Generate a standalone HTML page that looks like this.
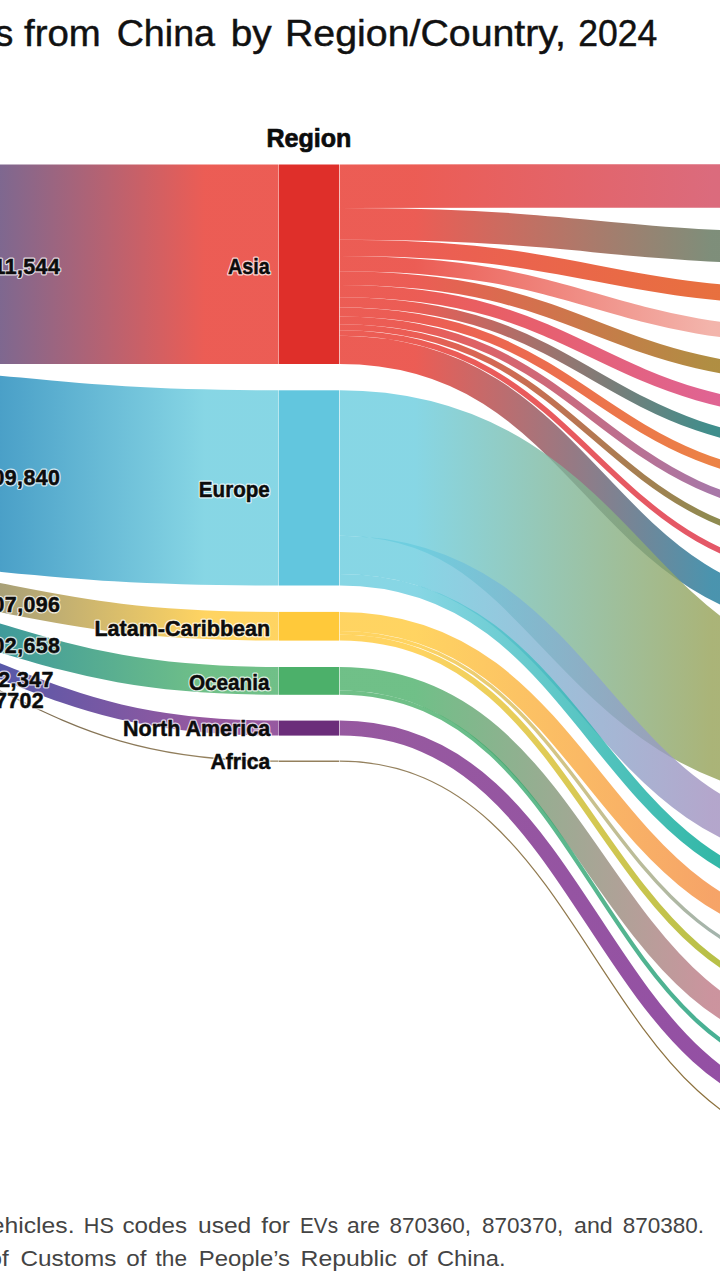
<!DOCTYPE html>
<html><head><meta charset="utf-8"><title>Sankey</title>
<style>
html,body{margin:0;padding:0;background:#fff;}
body{width:720px;height:1280px;overflow:hidden;position:relative;font-family:"Liberation Sans",sans-serif;}
svg{position:absolute;left:0;top:0;}
.lb,.vl{font-family:"Liberation Sans",sans-serif;font-weight:bold;font-size:21.8px;stroke-linejoin:round;}

.halo{fill:#fff;stroke:#fff;stroke-width:3px;opacity:.75;}
.ink{fill:#0c0c0c;stroke:#0c0c0c;stroke-width:.5px;}
.vl{font-size:21.4px;letter-spacing:.4px;}
.ttl{font-family:"Liberation Sans",sans-serif;font-size:36px;fill:#111;stroke:#111;stroke-width:.45px;}
.hd{font-family:"Liberation Sans",sans-serif;font-weight:bold;font-size:26px;fill:#0c0c0c;stroke:#0c0c0c;stroke-width:.7px;}
.ft{font-family:"Liberation Sans",sans-serif;font-size:22px;fill:#444;}
</style></head><body>
<svg width="720" height="1280" viewBox="0 0 720 1280">
<defs>
<linearGradient id="gl0" gradientUnits="userSpaceOnUse" x1="0" y1="0" x2="205" y2="0"><stop offset="0" stop-color="#5e4274"/><stop offset="1" stop-color="#e7342a"/></linearGradient>
<linearGradient id="gl1" gradientUnits="userSpaceOnUse" x1="0" y1="0" x2="205" y2="0"><stop offset="0" stop-color="#1d88ba"/><stop offset="1" stop-color="#69ccde"/></linearGradient>
<linearGradient id="gl2" gradientUnits="userSpaceOnUse" x1="0" y1="0" x2="205" y2="0"><stop offset="0" stop-color="#928856"/><stop offset="1" stop-color="#ffc93a"/></linearGradient>
<linearGradient id="gl3" gradientUnits="userSpaceOnUse" x1="0" y1="0" x2="205" y2="0"><stop offset="0" stop-color="#0f8181"/><stop offset="1" stop-color="#4cb06a"/></linearGradient>
<linearGradient id="gl4" gradientUnits="userSpaceOnUse" x1="0" y1="0" x2="205" y2="0"><stop offset="0" stop-color="#2e2e92"/><stop offset="1" stop-color="#7c2f88"/></linearGradient>
<linearGradient id="gl5" gradientUnits="userSpaceOnUse" x1="0" y1="0" x2="205" y2="0"><stop offset="0" stop-color="#594524"/><stop offset="1" stop-color="#7a6236"/></linearGradient>
<linearGradient id="gr0" gradientUnits="userSpaceOnUse" x1="415" y1="0" x2="712" y2="0"><stop offset="0" stop-color="#e7342a"/><stop offset="1" stop-color="#d2465c"/></linearGradient>
<linearGradient id="gr1" gradientUnits="userSpaceOnUse" x1="415" y1="0" x2="712" y2="0"><stop offset="0" stop-color="#e7342a"/><stop offset="1" stop-color="#5e7259"/></linearGradient>
<linearGradient id="gr2" gradientUnits="userSpaceOnUse" x1="415" y1="0" x2="712" y2="0"><stop offset="0" stop-color="#e7342a"/><stop offset="1" stop-color="#e24c0f"/></linearGradient>
<linearGradient id="gr3" gradientUnits="userSpaceOnUse" x1="415" y1="0" x2="712" y2="0"><stop offset="0" stop-color="#e7342a"/><stop offset="1" stop-color="#f0a297"/></linearGradient>
<linearGradient id="gr4" gradientUnits="userSpaceOnUse" x1="415" y1="0" x2="712" y2="0"><stop offset="0" stop-color="#e7342a"/><stop offset="1" stop-color="#9c7213"/></linearGradient>
<linearGradient id="gr5" gradientUnits="userSpaceOnUse" x1="415" y1="0" x2="712" y2="0"><stop offset="0" stop-color="#e7342a"/><stop offset="1" stop-color="#d83d77"/></linearGradient>
<linearGradient id="gr6" gradientUnits="userSpaceOnUse" x1="415" y1="0" x2="712" y2="0"><stop offset="0" stop-color="#e7342a"/><stop offset="1" stop-color="#0f726f"/></linearGradient>
<linearGradient id="gr7" gradientUnits="userSpaceOnUse" x1="415" y1="0" x2="712" y2="0"><stop offset="0" stop-color="#e7342a"/><stop offset="1" stop-color="#e76318"/></linearGradient>
<linearGradient id="gr8" gradientUnits="userSpaceOnUse" x1="415" y1="0" x2="712" y2="0"><stop offset="0" stop-color="#e7342a"/><stop offset="1" stop-color="#925692"/></linearGradient>
<linearGradient id="gr9" gradientUnits="userSpaceOnUse" x1="415" y1="0" x2="712" y2="0"><stop offset="0" stop-color="#e7342a"/><stop offset="1" stop-color="#726d24"/></linearGradient>
<linearGradient id="gr10" gradientUnits="userSpaceOnUse" x1="415" y1="0" x2="712" y2="0"><stop offset="0" stop-color="#e7342a"/><stop offset="1" stop-color="#dd2e42"/></linearGradient>
<linearGradient id="gr11" gradientUnits="userSpaceOnUse" x1="415" y1="0" x2="712" y2="0"><stop offset="0" stop-color="#e7342a"/><stop offset="1" stop-color="#1d799a"/></linearGradient>
<linearGradient id="gr12" gradientUnits="userSpaceOnUse" x1="415" y1="0" x2="712" y2="0"><stop offset="0" stop-color="#69ccde"/><stop offset="1" stop-color="#95a156"/></linearGradient>
<linearGradient id="gr13" gradientUnits="userSpaceOnUse" x1="415" y1="0" x2="712" y2="0"><stop offset="0" stop-color="#69ccde"/><stop offset="1" stop-color="#a190bf"/></linearGradient>
<linearGradient id="gr14" gradientUnits="userSpaceOnUse" x1="415" y1="0" x2="712" y2="0"><stop offset="0" stop-color="#69ccde"/><stop offset="1" stop-color="#01a692"/></linearGradient>
<linearGradient id="gr15" gradientUnits="userSpaceOnUse" x1="415" y1="0" x2="712" y2="0"><stop offset="0" stop-color="#ffc93a"/><stop offset="1" stop-color="#f48d42"/></linearGradient>
<linearGradient id="gr16" gradientUnits="userSpaceOnUse" x1="415" y1="0" x2="712" y2="0"><stop offset="0" stop-color="#ffc93a"/><stop offset="1" stop-color="#8da197"/></linearGradient>
<linearGradient id="gr17" gradientUnits="userSpaceOnUse" x1="415" y1="0" x2="712" y2="0"><stop offset="0" stop-color="#ffc93a"/><stop offset="1" stop-color="#a6b01a"/></linearGradient>
<linearGradient id="gr18" gradientUnits="userSpaceOnUse" x1="415" y1="0" x2="712" y2="0"><stop offset="0" stop-color="#4cb06a"/><stop offset="1" stop-color="#bf7986"/></linearGradient>
<linearGradient id="gr19" gradientUnits="userSpaceOnUse" x1="415" y1="0" x2="712" y2="0"><stop offset="0" stop-color="#4cb06a"/><stop offset="1" stop-color="#1a9c79"/></linearGradient>
<linearGradient id="gr20" gradientUnits="userSpaceOnUse" x1="415" y1="0" x2="712" y2="0"><stop offset="0" stop-color="#7c2f88"/><stop offset="1" stop-color="#79248d"/></linearGradient>
<linearGradient id="gr21" gradientUnits="userSpaceOnUse" x1="415" y1="0" x2="712" y2="0"><stop offset="0" stop-color="#7a6236"/><stop offset="1" stop-color="#6e4b09"/></linearGradient>
</defs>
<g fill="none" stroke-opacity="0.8" class="lk">
<path d="M-256.4,264.25C11.1,264.25 11.1,264.25 278.6,264.25" stroke="url(#gl0)" stroke-width="199.50"/>
<path d="M-256.4,461.60C11.1,461.60 11.1,487.90 278.6,487.90" stroke="url(#gl1)" stroke-width="195.20"/>
<path d="M-256.4,573.55C11.1,573.55 11.1,626.25 278.6,626.25" stroke="url(#gl2)" stroke-width="28.70"/>
<path d="M-256.4,601.80C11.1,601.80 11.1,680.90 278.6,680.90" stroke="url(#gl3)" stroke-width="27.80"/>
<path d="M-256.4,623.20C11.1,623.20 11.1,728.10 278.6,728.10" stroke="url(#gl4)" stroke-width="15.00"/>
<path d="M-256.4,631.30C11.1,631.30 11.1,761.20 278.6,761.20" stroke="url(#gl5)" stroke-width="1.20"/>
<path d="M339.6,186.24C594.1,186.24 594.1,185.86 848.6,185.86" stroke="url(#gr0)" stroke-width="43.48"/>
<path d="M339.6,223.90C594.1,223.90 594.1,248.69 848.6,248.69" stroke="url(#gr1)" stroke-width="31.84"/>
<path d="M339.6,247.93C594.1,247.93 594.1,297.81 848.6,297.81" stroke="url(#gr2)" stroke-width="16.22"/>
<path d="M339.6,263.60C594.1,263.60 594.1,337.51 848.6,337.51" stroke="url(#gr3)" stroke-width="15.12"/>
<path d="M339.6,278.13C594.1,278.13 594.1,376.80 848.6,376.80" stroke="url(#gr4)" stroke-width="13.93"/>
<path d="M339.6,291.17C594.1,291.17 594.1,413.46 848.6,413.46" stroke="url(#gr5)" stroke-width="12.14"/>
<path d="M339.6,302.36C594.1,302.36 594.1,448.33 848.6,448.33" stroke="url(#gr6)" stroke-width="10.25"/>
<path d="M339.6,311.96C594.1,311.96 594.1,482.49 848.6,482.49" stroke="url(#gr7)" stroke-width="8.96"/>
<path d="M339.6,320.32C594.1,320.32 594.1,514.90 848.6,514.90" stroke="url(#gr8)" stroke-width="7.76"/>
<path d="M339.6,327.18C594.1,327.18 594.1,546.37 848.6,546.37" stroke="url(#gr9)" stroke-width="5.97"/>
<path d="M339.6,332.96C594.1,332.96 594.1,576.85 848.6,576.85" stroke="url(#gr10)" stroke-width="5.57"/>
<path d="M339.6,349.87C594.1,349.87 594.1,617.80 848.6,617.80" stroke="url(#gr11)" stroke-width="28.26"/>
<path d="M339.6,463.00C594.1,463.00 594.1,730.17 848.6,730.17" stroke="url(#gr12)" stroke-width="145.40"/>
<path d="M339.6,554.80C594.1,554.80 594.1,847.77 848.6,847.77" stroke="url(#gr13)" stroke-width="38.20"/>
<path d="M339.6,579.70C594.1,579.70 594.1,896.33 848.6,896.33" stroke="url(#gr14)" stroke-width="11.60"/>
<path d="M339.6,621.50C594.1,621.50 594.1,937.01 848.6,937.01" stroke="url(#gr15)" stroke-width="19.20"/>
<path d="M339.6,632.80C594.1,632.80 594.1,974.11 848.6,974.11" stroke="url(#gr16)" stroke-width="3.40"/>
<path d="M339.6,637.55C594.1,637.55 594.1,1003.93 848.6,1003.93" stroke="url(#gr17)" stroke-width="6.10"/>
<path d="M339.6,678.80C594.1,678.80 594.1,1044.67 848.6,1044.67" stroke="url(#gr18)" stroke-width="23.60"/>
<path d="M339.6,692.70C594.1,692.70 594.1,1082.24 848.6,1082.24" stroke="url(#gr19)" stroke-width="4.20"/>
<path d="M339.6,728.10C594.1,728.10 594.1,1116.29 848.6,1116.29" stroke="url(#gr20)" stroke-width="15.00"/>
<path d="M339.6,761.20C594.1,761.20 594.1,1151.52 848.6,1151.52" stroke="url(#gr21)" stroke-width="1.20"/>
</g>
<rect x="279" y="164.5" width="60" height="199.5" fill="#df2f2a"/>
<rect x="279" y="390.3" width="60" height="195.2" fill="#62c6de"/>
<rect x="279" y="611.9" width="60" height="28.7" fill="#ffc93a"/>
<rect x="279" y="667.0" width="60" height="27.8" fill="#4cb06a"/>
<rect x="279" y="720.6" width="60" height="15.0" fill="#6b2d7a"/>
<rect x="279" y="760.6" width="60" height="1.2" fill="#7a6236"/>
<text class="ttl" x="13.3" y="45.5" text-anchor="end">s</text>
<text class="ttl" x="24" y="45.5" textLength="76.7" lengthAdjust="spacingAndGlyphs">from</text>
<text class="ttl" x="116.7" y="45.5" textLength="98.3" lengthAdjust="spacingAndGlyphs">China</text>
<text class="ttl" x="230.7" y="45.5" textLength="41.0" lengthAdjust="spacingAndGlyphs">by</text>
<text class="ttl" x="285" y="45.5" textLength="281.0" lengthAdjust="spacingAndGlyphs">Region/Country,</text>
<text class="ttl" x="578.3" y="45.5" textLength="79.0" lengthAdjust="spacingAndGlyphs">2024</text>
<text class="hd" x="266.4" y="146.8" textLength="85" lengthAdjust="spacingAndGlyphs">Region</text>
<text class="lb halo" x="228" y="274" textLength="41.8" lengthAdjust="spacingAndGlyphs">Asia</text>
<text class="lb ink" x="228" y="274" textLength="41.8" lengthAdjust="spacingAndGlyphs">Asia</text>
<text class="lb halo" x="198.8" y="497.2" textLength="71.0" lengthAdjust="spacingAndGlyphs">Europe</text>
<text class="lb ink" x="198.8" y="497.2" textLength="71.0" lengthAdjust="spacingAndGlyphs">Europe</text>
<text class="lb halo" x="94.4" y="635.6" textLength="175.8" lengthAdjust="spacingAndGlyphs">Latam-Caribbean</text>
<text class="lb ink" x="94.4" y="635.6" textLength="175.8" lengthAdjust="spacingAndGlyphs">Latam-Caribbean</text>
<text class="lb halo" x="188.9" y="689.7" textLength="80.7" lengthAdjust="spacingAndGlyphs">Oceania</text>
<text class="lb ink" x="188.9" y="689.7" textLength="80.7" lengthAdjust="spacingAndGlyphs">Oceania</text>
<text class="lb halo" x="123" y="736.1" textLength="147.2" lengthAdjust="spacingAndGlyphs">North America</text>
<text class="lb ink" x="123" y="736.1" textLength="147.2" lengthAdjust="spacingAndGlyphs">North America</text>
<text class="lb halo" x="210.6" y="768.9" textLength="59.6" lengthAdjust="spacingAndGlyphs">Africa</text>
<text class="lb ink" x="210.6" y="768.9" textLength="59.6" lengthAdjust="spacingAndGlyphs">Africa</text>
<text class="vl halo" x="60.2" y="274" text-anchor="end">1,011,544</text>
<text class="vl ink" x="60.2" y="274" text-anchor="end">1,011,544</text>
<text class="vl halo" x="60.3" y="484.9" text-anchor="end">909,840</text>
<text class="vl ink" x="60.3" y="484.9" text-anchor="end">909,840</text>
<text class="vl halo" x="60.4" y="611.8" text-anchor="end">107,096</text>
<text class="vl ink" x="60.4" y="611.8" text-anchor="end">107,096</text>
<text class="vl halo" x="60.4" y="653" text-anchor="end">102,658</text>
<text class="vl ink" x="60.4" y="653" text-anchor="end">102,658</text>
<text class="vl halo" x="53.8" y="687" text-anchor="end">72,347</text>
<text class="vl ink" x="53.8" y="687" text-anchor="end">72,347</text>
<text class="vl halo" x="44.1" y="707.9" text-anchor="end">7702</text>
<text class="vl ink" x="44.1" y="707.9" text-anchor="end">7702</text>
<text class="ft" x="-9.2" y="1232.5" textLength="83.7" lengthAdjust="spacingAndGlyphs">ehicles.</text>
<text class="ft" x="83.8" y="1232.5" textLength="30.0" lengthAdjust="spacingAndGlyphs">HS</text>
<text class="ft" x="122.5" y="1232.5" textLength="64.5" lengthAdjust="spacingAndGlyphs">codes</text>
<text class="ft" x="198" y="1232.5" textLength="53.3" lengthAdjust="spacingAndGlyphs">used</text>
<text class="ft" x="261.3" y="1232.5" textLength="28.7" lengthAdjust="spacingAndGlyphs">for</text>
<text class="ft" x="300" y="1232.5" textLength="38.0" lengthAdjust="spacingAndGlyphs">EVs</text>
<text class="ft" x="347" y="1232.5" textLength="33.0" lengthAdjust="spacingAndGlyphs">are</text>
<text class="ft" x="389.5" y="1232.5" textLength="81.5" lengthAdjust="spacingAndGlyphs">870360,</text>
<text class="ft" x="482" y="1232.5" textLength="81.3" lengthAdjust="spacingAndGlyphs">870370,</text>
<text class="ft" x="574" y="1232.5" textLength="38.7" lengthAdjust="spacingAndGlyphs">and</text>
<text class="ft" x="622.7" y="1232.5" textLength="81.3" lengthAdjust="spacingAndGlyphs">870380.</text>
<text class="ft" x="-11.4" y="1265.5" textLength="20.2" lengthAdjust="spacingAndGlyphs">of</text>
<text class="ft" x="20.5" y="1265.5" textLength="95.8" lengthAdjust="spacingAndGlyphs">Customs</text>
<text class="ft" x="126.3" y="1265.5" textLength="20.2" lengthAdjust="spacingAndGlyphs">of</text>
<text class="ft" x="155.5" y="1265.5" textLength="31.5" lengthAdjust="spacingAndGlyphs">the</text>
<text class="ft" x="198.8" y="1265.5" textLength="91.2" lengthAdjust="spacingAndGlyphs">People’s</text>
<text class="ft" x="300.5" y="1265.5" textLength="96.5" lengthAdjust="spacingAndGlyphs">Republic</text>
<text class="ft" x="407.5" y="1265.5" textLength="20.0" lengthAdjust="spacingAndGlyphs">of</text>
<text class="ft" x="437" y="1265.5" textLength="68.5" lengthAdjust="spacingAndGlyphs">China.</text>
</svg>
</body></html>
